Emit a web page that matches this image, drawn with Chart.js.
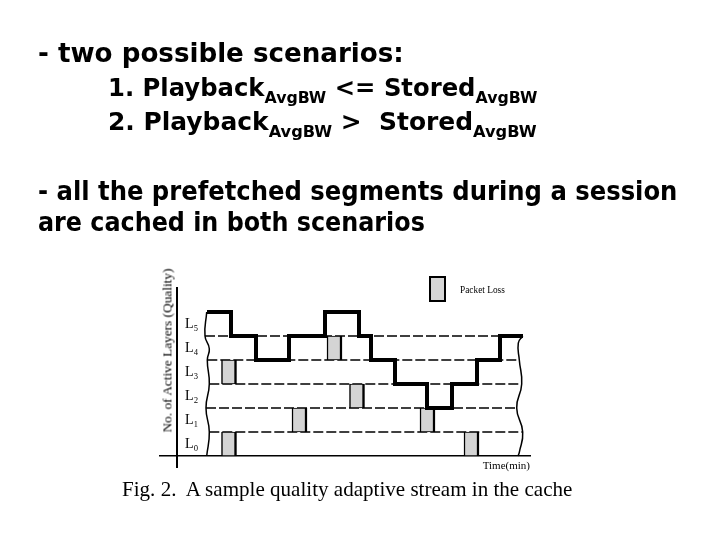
<!DOCTYPE html>
<html>
<head>
<meta charset="utf-8">
<script src="https://cdn.jsdelivr.net/npm/chart.js"></script>
<style>
html, body { margin: 0; padding: 0; background: #fff; }
#page { position: relative; width: 720px; height: 540px; overflow: hidden; }
#chartBox { position: absolute; left: 0; top: 0; width: 720px; height: 540px; }
.t { position: absolute; white-space: pre; font-family: "DejaVu Sans", sans-serif; font-weight: bold;
     color: #000; line-height: 1; transform-origin: 0 0; }
.t sub { font-size: 0.65em; vertical-align: -0.45em; line-height: 0; }
.serif { font-family: "Liberation Serif", "Times New Roman", serif; font-weight: normal; }
#lossKey { position: absolute; left: 429px; top: 276px; width: 17px; height: 26px; box-sizing: border-box;
           border: 2.5px solid #000; background: #d6d6d6; }
</style>
</head>
<body>
<div id="page">
  <div id="chartBox"><canvas id="chart"></canvas></div>

  <div class="t" data-w="366" style="left:38px; top:40px; font-size:26px;">- two possible scenarios:</div>
  <div class="t" data-w="429" style="left:108px; top:76px; font-size:24px;">1. Playback<sub>AvgBW</sub> &lt;= Stored<sub>AvgBW</sub></div>
  <div class="t" data-w="429" style="left:108px; top:110px; font-size:24px;">2. Playback<sub>AvgBW</sub> &gt;&nbsp; Stored<sub>AvgBW</sub></div>
  <div class="t" data-w="639" style="left:38px; top:178px; font-size:26px;">- all the prefetched segments during a session</div>
  <div class="t" data-w="387" style="left:38px; top:209px; font-size:26px;">are cached in both scenarios</div>

  <div id="lossKey"></div>
  <div class="t serif" data-w="45" style="left:460px; top:284px; font-size:11px;">Packet Loss</div>
  <div class="t serif" id="yTitle" data-w="164" data-cx="167" data-cy="350" style="font-size:13px;">No. of Active Layers (Quality)</div>
  <div class="t serif" data-w="450" style="left:122px; top:478px; font-size:22px;">Fig. 2.  A sample quality adaptive stream in the cache</div>
</div>

<script>
// time axis (arbitrary minutes) and layer axis
const timeMin = -1.7, timeMax = 35.3;
const levelMin = -0.46, levelMax = 7;

const layerNames = ['L₀', 'L₁', 'L₂', 'L₃', 'L₄', 'L₅'];
const layerCenters = [0.5, 1.5, 2.5, 3.5, 4.5, 5.5];
const layerBounds = [1, 2, 3, 4, 5];

// number of active layers (top of the stack) over time
const qualityTimes = [3.0, 5.4, 7.9, 11.2, 14.8, 18.2, 19.4, 21.8, 25.0, 27.5, 30.0, 32.3, 34.6];
const qualityLevels = [6, 5, 4, 5, 6, 5, 4, 3, 2, 3, 4, 5, 5];

// packet losses: time and layer hit
const lossTimes = [5.2, 5.2, 12.25, 15.75, 18.0, 25.05, 29.45];
const lossLayers = [3, 0, 1, 4, 2, 1, 0];

// wavy start / end of the session
const leftEdgeX = [2.97, 2.8, 3.23, 3.03, 3.23, 2.9, 3.23, 2.97];
const leftEdgeY = [6, 5, 4.47, 4, 3, 2, 1, 0];
const rightEdgeX = [34.57, 34.13, 34.23, 34.47, 33.97, 34.57, 34.23, 34.1];
const rightEdgeY = [5, 4.7, 4, 3, 2, 1, 0.15, 0];

// fit slide text to the measured widths
document.querySelectorAll('.t[data-w]').forEach(el => {
  const k = +el.dataset.w / el.offsetWidth;
  if (el.dataset.cx) {
    el.style.left = (+el.dataset.cx - el.offsetWidth / 2) + 'px';
    el.style.top = (+el.dataset.cy - el.offsetHeight / 2) + 'px';
    el.style.transformOrigin = '50% 50%';
    el.style.transform = `rotate(-90deg) scaleX(${k})`;
  } else {
    el.style.transform = `scaleX(${k})`;
  }
});

const datasets = [];

datasets.push({
  type: 'line',
  data: qualityTimes.map((t, i) => ({x: t, y: qualityLevels[i]})),
  stepped: true,
  borderColor: '#000',
  borderWidth: 4,
  borderJoinStyle: 'miter',
  pointRadius: 0,
  fill: false,
  order: 0
});

datasets.push({
  type: 'bar',
  data: lossTimes.map((t, i) => ({x: t, y: [lossLayers[i], lossLayers[i] + 1]})),
  backgroundColor: '#d4d4d4',
  borderColor: '#000',
  borderWidth: {left: 1.5, right: 2.5, top: 1, bottom: 1},
  borderSkipped: false,
  barThickness: 15,
  order: 1
});

layerBounds.forEach(b => {
  const x0 = leftEdgeX[leftEdgeY.indexOf(b)];
  const x1 = rightEdgeX[rightEdgeY.indexOf(b)];
  datasets.push({
    type: 'line',
    data: [{x: x0, y: b}, {x: x1, y: b}],
    borderColor: '#000',
    borderWidth: 1.5,
    borderDash: [10, 3],
    pointRadius: 0,
    fill: false,
    order: 2
  });
});

[[leftEdgeX, leftEdgeY], [rightEdgeX, rightEdgeY]].forEach(([xs, ys]) => {
  datasets.push({
    type: 'line',
    data: xs.map((x, i) => ({x: x, y: ys[i]})),
    borderColor: '#000',
    borderWidth: 1.5,
    tension: 0.5,
    pointRadius: 0,
    fill: false,
    order: 2
  });
});

new Chart(document.getElementById('chart'), {
  type: 'line',
  data: {datasets},
  options: {
    responsive: true,
    maintainAspectRatio: false,
    animation: false,
    events: [],
    layout: {padding: {left: 110, right: 190, top: 288, bottom: 73}},
    plugins: {legend: {display: false}, tooltip: {enabled: false}},
    scales: {
      x: {
        type: 'linear',
        min: timeMin,
        max: timeMax,
        offset: false,
        position: {y: 0},
        grid: {display: false, drawTicks: false, offset: false},
        ticks: {display: false},
        border: {color: '#000', width: 1.5},
        title: {
          display: true,
          text: 'Time(min)',
          align: 'end',
          color: '#000',
          font: {family: '"Liberation Serif", serif', size: 11}
        }
      },
      y: {
        type: 'linear',
        min: levelMin,
        max: levelMax,
        position: {x: 0},
        grid: {display: false, drawTicks: false},
        ticks: {display: false},
        border: {color: '#000', width: 2}
      },
      yl: {
        type: 'linear',
        min: levelMin,
        max: levelMax,
        position: 'left',
        grid: {display: false, drawTicks: false},
        border: {display: false},
        afterBuildTicks: s => { s.ticks = layerCenters.map(v => ({value: v})); },
        ticks: {
          mirror: true,
          padding: 25,
          color: '#000',
          font: {family: '"Liberation Serif", "DejaVu Serif", serif', size: 14},
          callback: v => layerNames[layerCenters.indexOf(v)]
        }
      }
    }
  }
});
</script>
</body>
</html>
